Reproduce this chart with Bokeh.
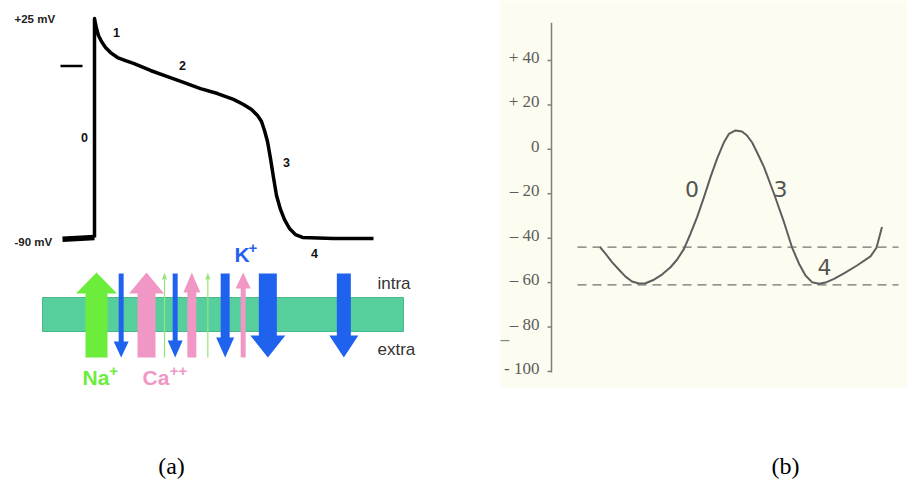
from bokeh.plotting import figure
from bokeh.models import Range1d
from bokeh.core.properties import value
from bokeh.embed import file_html
from bokeh.resources import INLINE

# ---------------- Panel (a): ventricular action potential ----------------
ap_time = [0, 0, 3, 6, 10.5, 16.5, 24, 34.5, 46.5, 58.5, 84, 109.5, 133.5, 159, 184.5,
           208.5, 223.5, 235.5, 244.5, 250.5, 255, 259.5, 264, 268.5, 273, 279, 285,
           292.5, 301.5, 312, 358.5, 418.5]
ap_mv = [-90, 25, 19.7, 16.1, 12.9, 9.8, 7.1, 4.5, 2.9, 1.4, -2.3, -5.5, -8.6, -11.8,
         -14.4, -17.5, -20.2, -22.8, -25.9, -29.1, -33.8, -39.6, -48.5, -58.5, -68,
         -75.3, -80.6, -85.3, -88.5, -90, -90.5, -90.5]
rest_time = [-48, 0]
rest_mv = [-91, -90]
zero_mark_time = [-51, -18]
zero_mark_mv = [0, 0]

phase_a_labels = ["0", "1", "2", "3", "4"]
phase_a_time = [-15, 33, 132, 288, 330]
phase_a_mv = [-37.5, 17.6, 0.3, -50.6, -98.4]

level_labels = ["+25 mV", "-90 mV"]
level_mv = [25, -92.5]

# ion currents across the membrane (time of current, ion, direction)
current_ion = ["Na", "K", "Ca", "Na", "K", "Ca", "Na", "K", "Ca", "K", "K"]
current_dir = ["in", "out", "in", "in", "out", "in", "in", "out", "in", "out", "out"]
current_time = [3, 40, 78, 105, 121, 146, 170, 196, 223, 260, 374]
# arrow drawing styles (px): shaft width, head width, head length
shaft_px = [22, 5, 18, 1, 5, 9, 1, 9, 5, 18, 14]
head_px = [41, 15, 35, 5, 15, 17, 5, 18, 15, 35, 29]
headlen_px = [21, 16, 21, 7, 17, 20, 7, 20, 16, 22, 22]

ion_names = ["Na", "Ca", "K"]
ion_symbols = ["Na", "Ca", "K"]
ion_charges = ["+", "++", "+"]
ion_label_time = [-18, 72, 210]
ion_charge_time = [22, 113, 231]
ion_colors = {"Na": "#6ced3c", "Ca": "#f197c6", "K": "#1f62ee"}
trace_green = "#93e67c"

# ---------------- Panel (b): pacemaker (SA node) potential ----------------
pm_time = [97, 108, 121, 135, 148, 161, 175, 188, 205, 221, 238, 251, 265, 278, 291,
           305, 318, 331, 345, 355, 368, 381, 391, 401, 411, 425, 445, 465, 481, 495,
           508, 521, 535, 548, 565, 585, 611, 638, 650, 661]
pm_mv = [-44, -47, -50.8, -54.2, -57.3, -59.5, -60.4, -60.3, -58.7, -56.4, -53.1, -49.7,
         -44.8, -38, -30.6, -21.5, -12.5, -4.3, 3.2, 7, 8.5, 8, 6.2, 3.2, -1.3, -8, -20,
         -32.8, -44.1, -51.5, -56.8, -59.8, -60.5, -60, -58.3, -55.8, -52.3, -48.2,
         -44.3, -35]
threshold_mv = [-44, -61]
threshold_time = [52, 694]
b_ticks = [40, 20, 0, -20, -40, -60, -80, -100]
b_tick_labels = ["+ 40", "+ 20", "0", "\u2013 20", "\u2013 40", "\u2013 60", "\u2013 80", "- 100"]
b_axis_mv = [57, -100.5]
phase_b_labels = ["0", "3", "4"]
phase_b_time = [281, 458, 546]
phase_b_mv = [-17.8, -17.8, -53.2]

# ---------------- figure ----------------
W, H = 907, 482
p = figure(width=W, height=H, x_range=Range1d(0, W), y_range=Range1d(H, 0),
           x_axis_type=None, y_axis_type=None, output_backend="svg",
           toolbar_location=None, min_border=0)
p.grid.visible = False
p.outline_line_color = None
p.background_fill_color = "white"
p.border_fill_color = "white"

# time scale a: 1.5 ms per px, t=0 at x=94 ; voltage a: 1.904 px per mV, +25 at y=18
p.extra_x_ranges = {"ta": Range1d(-94 * 1.5, (W - 94) * 1.5),
                    "tb": Range1d(-551 * 2, (W - 551) * 2)}
p.extra_y_ranges = {"va": Range1d(25 - (H - 18) / 1.904, 25 + 18 / 1.904),
                    "vb": Range1d(40 - (H - 60) / 2.221, 40 + 60 / 2.221)}

sans = value("Liberation Sans")
serif = value("Liberation Serif")

# ---- panel (a) trace
p.line(rest_time, rest_mv, x_range_name="ta", y_range_name="va",
       line_color="black", line_width=5.5, line_cap="butt")
p.line(ap_time, ap_mv, x_range_name="ta", y_range_name="va",
       line_color="black", line_width=3.5, line_join="round")
p.line(zero_mark_time, zero_mark_mv, x_range_name="ta", y_range_name="va",
       line_color="black", line_width=2.5)
p.text(x=[-120, -120], y=level_mv, text=level_labels, x_range_name="ta", y_range_name="va",
       text_font=sans, text_font_size="11.5px", text_font_style="bold",
       text_color="#222222", text_align="left", text_baseline="middle")
p.text(x=phase_a_time, y=phase_a_mv, text=phase_a_labels, x_range_name="ta", y_range_name="va",
       text_font=sans, text_font_size="12.5px", text_font_style="bold",
       text_color="#111111", text_align="center", text_baseline="middle")

# ---- membrane (x in time units of panel a, y in page px)
p.quad(left=[-78], right=[463.5], top=[297], bottom=[331], x_range_name="ta",
       fill_color="#57cf9c", line_color="#4bb88b", line_width=1)

tail_in, tip_in = 357, 272
tail_out, tip_out = 273, 357
xs, ys, cols = [], [], []
trace_x, trace_y = [], []
for t, ion, d, s, h, L in zip(current_time, current_ion, current_dir, shaft_px, head_px, headlen_px):
    k = 1.5
    if d == "in":
        y0, y1, yb = tail_in, tip_in, tip_in + L
    else:
        y0, y1, yb = tail_out, tip_out, tip_out - L
    if s <= 1:
        trace_x.append([t, t])
        trace_y.append([y0, yb])
        xs.append([t - h / 2 * k, t, t + h / 2 * k])
        ys.append([yb, y1, yb])
        cols.append(trace_green)
        continue
    xs.append([t - s / 2 * k, t - s / 2 * k, t - h / 2 * k, t, t + h / 2 * k,
               t + s / 2 * k, t + s / 2 * k])
    ys.append([y0, yb, yb, y1, yb, yb, y0])
    cols.append(ion_colors[ion])
p.multi_line(trace_x, trace_y, x_range_name="ta", line_color=trace_green, line_width=1.2)
p.patches(xs, ys, x_range_name="ta", fill_color=cols, line_color=None)

ion_cols = [ion_colors[i] for i in ion_names]
p.text(x=ion_label_time, y=[377, 377, 254], text=ion_symbols, x_range_name="ta",
       text_font=sans, text_font_size="21px", text_font_style="bold",
       text_color=ion_cols, text_align="left", text_baseline="middle")
p.text(x=ion_charge_time, y=[370, 370, 247], text=ion_charges, x_range_name="ta",
       text_font=sans, text_font_size="15px", text_font_style="bold",
       text_color=ion_cols, text_align="left", text_baseline="middle")
p.text(x=[424.5, 424.5], y=[283, 349], text=["intra", "extra"], x_range_name="ta",
       text_font=sans, text_font_size="17px", text_color="#333333",
       text_align="left", text_baseline="middle")

# ---- panel (b)
p.quad(left=[500], right=[W], top=[0], bottom=[387], fill_color="#fdfcf0", line_color=None)
p.line([0, 0], b_axis_mv, x_range_name="tb", y_range_name="vb",
       line_color="#808080", line_width=1.5)
p.segment(x0=[-8] * len(b_ticks), x1=[0] * len(b_ticks), y0=b_ticks, y1=b_ticks,
          x_range_name="tb", y_range_name="vb", line_color="#808080", line_width=1.5)
p.segment(x0=[-102], x1=[-84], y0=[-86.1], y1=[-86.1], x_range_name="tb", y_range_name="vb",
          line_color="#8a8a8a", line_width=1.3)
p.text(x=[-24] * len(b_ticks), y=b_ticks, text=b_tick_labels, x_range_name="tb",
       y_range_name="vb", y_offset=-3, text_font=serif, text_font_size="17px",
       text_color="#5c5c5c", text_align="right", text_baseline="middle")
for v in threshold_mv:
    p.line(threshold_time, [v, v], x_range_name="tb", y_range_name="vb",
           line_color="#707070", line_width=1.3, line_dash="9 6")
p.line(pm_time, pm_mv, x_range_name="tb", y_range_name="vb",
       line_color="#5e5e5e", line_width=2, line_join="round")
p.text(x=phase_b_time, y=phase_b_mv, text=phase_b_labels, x_range_name="tb",
       y_range_name="vb", text_font=value("DejaVu Sans"), text_font_size="22px",
       text_color="#555555", text_align="center", text_baseline="middle")

# ---- captions
p.text(x=[171, 785], y=[465, 465], text=["(a)", "(b)"], text_font=serif,
       text_font_size="24px", text_color="black", text_align="center",
       text_baseline="middle")

open("out.html", "w").write(file_html(p, INLINE))
